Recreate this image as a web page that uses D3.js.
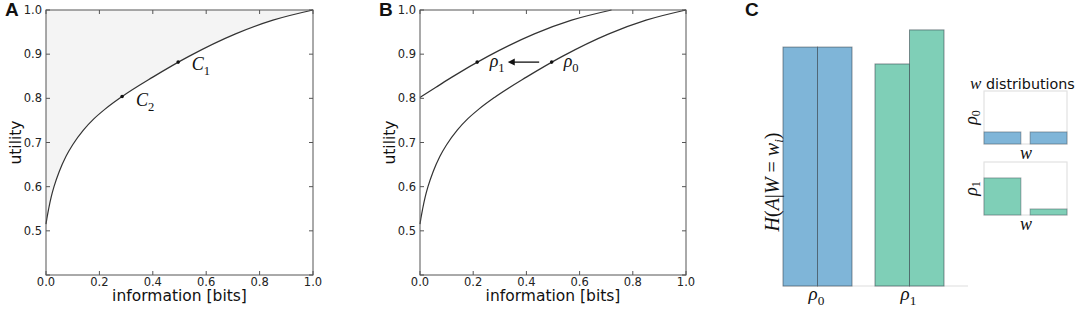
<!DOCTYPE html>
<html>
<head>
  <title>Information utility and conditional entropy</title>
  <script src="https://d3js.org/d3.v7.min.js"></script>
  <style>
    body { margin: 0; background: #fff; }
    .tick-label { font-family: "DejaVu Sans", sans-serif; font-size: 11.5px; fill: #222; }
    .axis-label { font-family: "DejaVu Sans", sans-serif; font-size: 15.5px; fill: #111; }
    .panel-letter { font-family: "Liberation Sans", Arial, sans-serif; font-size: 19px; font-weight: bold; fill: #111; }
    .math { font-family: "Liberation Serif", "Times New Roman", serif; font-style: italic; fill: #111; }
  </style>
</head>
<body>
  <div id="chart"></div>
  <script>
    // ---- data ----
    const xTicks = [0, 0.2, 0.4, 0.6, 0.8, 1.0];
    const yTicks = [0.4, 0.5, 0.6, 0.7, 0.8, 0.9, 1.0];
    const yTickLabels = ["", "0.5", "0.6", "0.7", "0.8", "0.9", "1.0"];

    // lower curve (rho0 / panel A frontier)
    const rho0Info = [0, 0.003, 0.01, 0.02, 0.03, 0.05, 0.075, 0.1, 0.14, 0.18, 0.22, 0.28, 0.4, 0.535, 0.71, 0.85, 1.0];
    const rho0Util = [0.515, 0.527, 0.550, 0.578, 0.600, 0.635, 0.669, 0.695, 0.728, 0.754, 0.775, 0.802, 0.848, 0.895, 0.946, 0.977, 1.0];
    // upper curve (rho1)
    const rho1Info = [0, 0.06, 0.12, 0.255, 0.43, 0.57, 0.72];
    const rho1Util = [0.802, 0.825, 0.848, 0.895, 0.946, 0.977, 1.0];

    // marked points
    const pointsA = [
      { name: "C", sub: "1", info: 0.495, util: 0.882, lx: 0.546, ly: 0.876 },
      { name: "C", sub: "2", info: 0.285, util: 0.804, lx: 0.337, ly: 0.794 }
    ];
    const pointsB = [
      { name: "ρ", sub: "1", info: 0.215, util: 0.882, lx: 0.262, ly: 0.882 },
      { name: "ρ", sub: "0", info: 0.495, util: 0.882, lx: 0.54, ly: 0.882 }
    ];
    const arrowB = { from: 0.448, to: 0.33, util: 0.882 };

    // panel C: conditional entropy per w value
    const entropyCats = ["ρ0", "ρ1"];
    const entropyValues = [[0.905, 0.905], [0.841, 0.97]];
    // w distributions
    const wDistRho0 = [0.5, 0.5];
    const wDistRho1 = [0.86, 0.14];

    const colors = ["#7fb5d8", "#7fcfb7"];

    const svg = d3.select("#chart").append("svg")
      .attr("width", 1079).attr("height", 310);

    function subLabel(g, x, y, name, sub, size) {
      const t = g.append("text").attr("class", "math").attr("x", x).attr("y", y)
        .style("font-size", size + "px");
      t.append("tspan").text(name);
      t.append("tspan").attr("dy", size * 0.28).style("font-style", "normal")
        .style("font-size", (size * 0.7) + "px").text(sub);
      return t;
    }

    function curvePanel(left, right, letter, curves, shade, points, arrow) {
      const x = d3.scaleLinear().domain([0, 1]).range([left, right]);
      const y = d3.scaleLinear().domain([0.4, 1.0]).range([275, 10]);
      const g = svg.append("g");

      if (shade) {
        const c = curves[0];
        const area = d3.area().x(d => x(d[0])).y0(y(1.0)).y1(d => y(d[1]))
          .curve(d3.curveMonotoneX);
        g.append("path").datum(d3.zip(c[0], c[1])).attr("d", area).attr("fill", "#f4f4f4");
      }

      const line = d3.line().x(d => x(d[0])).y(d => y(d[1])).curve(d3.curveMonotoneX);
      curves.forEach(c => {
        g.append("path").datum(d3.zip(c[0], c[1])).attr("d", line)
          .attr("fill", "none").attr("stroke", "#333").attr("stroke-width", 1.2);
      });

      // frame
      g.append("rect").attr("x", x(0)).attr("y", y(1)).attr("width", x(1) - x(0))
        .attr("height", y(0.4) - y(1)).attr("fill", "none").attr("stroke", "#555").attr("stroke-width", 1);

      // ticks on all four sides, inward
      xTicks.forEach(t => {
        g.append("line").attr("x1", x(t)).attr("x2", x(t)).attr("y1", y(0.4)).attr("y2", y(0.4) - 4).attr("stroke", "#555");
        g.append("line").attr("x1", x(t)).attr("x2", x(t)).attr("y1", y(1)).attr("y2", y(1) + 4).attr("stroke", "#555");
        g.append("text").attr("class", "tick-label").attr("x", x(t)).attr("y", y(0.4) + 11)
          .attr("text-anchor", "middle").text(t.toFixed(1));
      });
      yTicks.forEach((t, i) => {
        g.append("line").attr("x1", x(0)).attr("x2", x(0) + 4).attr("y1", y(t)).attr("y2", y(t)).attr("stroke", "#555");
        g.append("line").attr("x1", x(1)).attr("x2", x(1) - 4).attr("y1", y(t)).attr("y2", y(t)).attr("stroke", "#555");
        g.append("text").attr("class", "tick-label").attr("x", x(0) - 4).attr("y", y(t) + 4)
          .attr("text-anchor", "end").text(yTickLabels[i]);
      });

      g.append("text").attr("class", "axis-label").attr("x", (x(0) + x(1)) / 2).attr("y", 301)
        .attr("text-anchor", "middle").text("information [bits]");
      g.append("text").attr("class", "axis-label")
        .attr("transform", `translate(${x(0) - 25},${(y(0.4) + y(1)) / 2}) rotate(-90)`)
        .attr("text-anchor", "middle").text("utility");
      g.append("text").attr("class", "panel-letter").attr("x", x(0) - 41).attr("y", 16).text(letter);

      points.forEach(p => {
        g.append("circle").attr("cx", x(p.info)).attr("cy", y(p.util)).attr("r", 1.8).attr("fill", "#111");
        subLabel(g, x(p.lx), y(p.ly) + 5, p.name, p.sub, 18);
      });

      if (arrow) {
        const ax0 = x(arrow.from), ax1 = x(arrow.to), ay = y(arrow.util);
        g.append("line").attr("x1", ax0).attr("x2", ax1 + 5).attr("y1", ay).attr("y2", ay)
          .attr("stroke", "#111").attr("stroke-width", 1.3);
        g.append("path").attr("d", `M${ax1},${ay} L${ax1 + 7},${ay - 3.5} L${ax1 + 7},${ay + 3.5} Z`).attr("fill", "#111");
      }
    }

    curvePanel(46, 313, "A", [[rho0Info, rho0Util]], true, pointsA, null);
    curvePanel(420, 686, "B", [[rho0Info, rho0Util], [rho1Info, rho1Util]], false, pointsB, arrowB);

    // ---- panel C ----
    const gc = svg.append("g");
    gc.append("text").attr("class", "panel-letter").attr("x", 745).attr("y", 16).text("C");

    const xC = d3.scaleBand().domain(entropyCats).range([783, 944]).paddingInner(0.25).paddingOuter(0);
    const xSub = d3.scaleBand().domain([0, 1]).range([0, xC.bandwidth()]);
    const yC = d3.scaleLinear().domain([0, 1]).range([286, 22]);

    gc.append("line").attr("x1", 783).attr("x2", 968).attr("y1", yC(0)).attr("y2", yC(0))
      .attr("stroke", "#ddd").attr("stroke-width", 1.2);

    entropyCats.forEach((cat, ci) => {
      entropyValues[ci].forEach((v, i) => {
        gc.append("rect").attr("x", xC(cat) + xSub(i)).attr("y", yC(v))
          .attr("width", xSub.bandwidth()).attr("height", yC(0) - yC(v))
          .attr("fill", colors[ci]).attr("stroke", "rgba(50,60,70,0.55)").attr("stroke-width", 1);
      });
      subLabel(gc, xC(cat) + xC.bandwidth() / 2 - 9, 300, "ρ", cat.slice(1), 19);
    });

    // y label H(A|W = w_i)
    const hl = gc.append("text").attr("class", "math")
      .attr("transform", "translate(779,182) rotate(-90)").attr("text-anchor", "middle")
      .style("font-size", "20px");
    hl.append("tspan").text("H");
    hl.append("tspan").style("font-style", "normal").text("(");
    hl.append("tspan").text("A");
    hl.append("tspan").style("font-style", "normal").text("|");
    hl.append("tspan").text("W");
    hl.append("tspan").style("font-style", "normal").text(" = ");
    hl.append("tspan").text("w");
    hl.append("tspan").attr("dy", 4).style("font-size", "13px").text("i");
    hl.append("tspan").attr("dy", -4).style("font-style", "normal").text(")");

    // insets
    const inset = svg.append("g");
    const tTitle = inset.append("text").attr("x", 970).attr("y", 89);
    tTitle.append("tspan").attr("class", "math").style("font-size", "17px").text("w");
    tTitle.append("tspan").attr("class", "axis-label").style("font-size", "14.3px").text(" distributions");

    function distInset(top, bottom, values, yMax, color, sub) {
      const x = d3.scaleBand().domain([0, 1]).range([984, 1067]).paddingInner(0.2).paddingOuter(0);
      const y = d3.scaleLinear().domain([0, yMax]).range([bottom, top]);
      inset.append("rect").attr("x", 984).attr("y", top).attr("width", 83).attr("height", bottom - top)
        .attr("fill", "#fff").attr("stroke", "#e2e2e2").attr("stroke-width", 1.2);
      values.forEach((v, i) => {
        inset.append("rect").attr("x", x(i)).attr("y", y(v)).attr("width", x.bandwidth())
          .attr("height", bottom - y(v)).attr("fill", color)
          .attr("stroke", "rgba(60,70,80,0.45)").attr("stroke-width", 1);
      });
      const lab = inset.append("text").attr("class", "math")
        .attr("transform", `translate(977,${(top + bottom) / 2}) rotate(-90)`).attr("text-anchor", "middle")
        .style("font-size", "18px");
      lab.append("tspan").text("ρ");
      lab.append("tspan").attr("dy", 3).style("font-style", "normal").style("font-size", "12px").text(sub);
      inset.append("text").attr("class", "math").attr("x", 1026).attr("y", bottom + 15)
        .attr("text-anchor", "middle").style("font-size", "18px").text("w");
    }
    distInset(91, 144, wDistRho0, 2.2, colors[0], "0");
    distInset(162, 215, wDistRho1, 1.23, colors[1], "1");
  </script>
</body>
</html>
